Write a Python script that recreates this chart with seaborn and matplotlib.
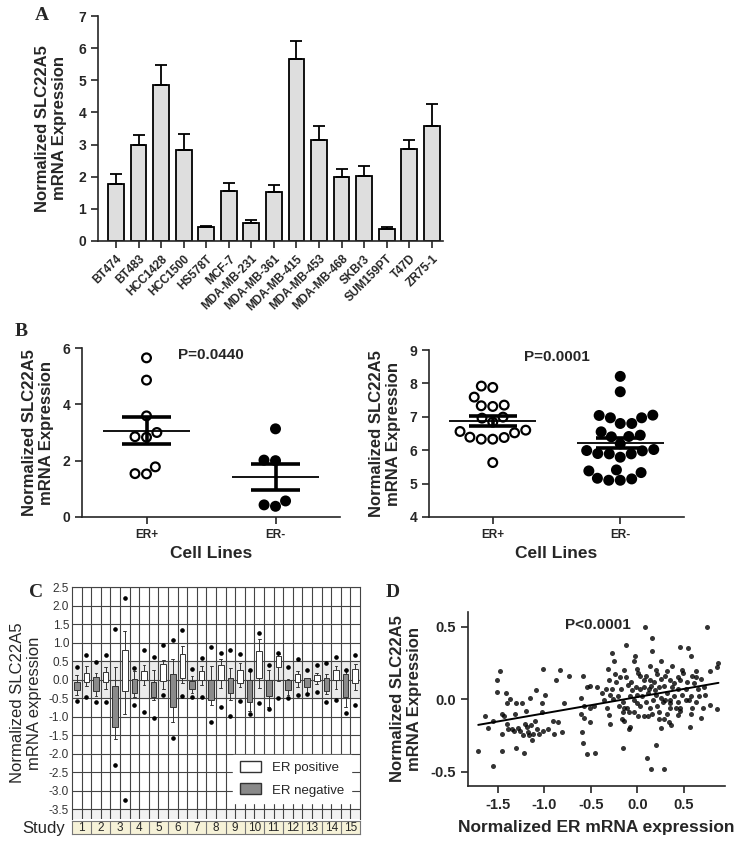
import numpy as np
import pandas as pd
import matplotlib
matplotlib.use("Agg")
import matplotlib.pyplot as plt
from matplotlib.patches import Patch
import seaborn as sns

sns.set_theme(style="ticks")
plt.rcParams["font.family"] = ["Liberation Sans", "DejaVu Sans"]
plt.rcParams["axes.unicode_minus"] = False

# ---------------- panel A: cell line bars
cell_lines = ["BT474", "BT483", "HCC1428", "HCC1500", "HS578T", "MCF-7",
              "MDA-MB-231", "MDA-MB-361", "MDA-MB-415", "MDA-MB-453",
              "MDA-MB-468", "SKBr3", "SUM159PT", "T47D", "ZR75-1"]
expr_mean = [1.78, 3.00, 4.86, 2.83, 0.43, 1.54, 0.57, 1.53, 5.65, 3.13,
             2.00, 2.02, 0.38, 2.85, 3.59]
expr_top = [2.07, 3.29, 5.49, 3.32, 0.48, 1.80, 0.65, 1.75, 6.22, 3.59,
            2.25, 2.33, 0.43, 3.13, 4.27]

# ---------------- panel B: ER+ / ER- scatter
b_groups = ["ER+", "ER-"]
cells_pos = [5.65, 4.86, 3.59, 2.83, 2.85, 3.00, 1.78, 1.54, 1.53]
cells_neg = [3.13, 2.00, 2.02, 0.57, 0.43, 0.38]
tumor_pos = [7.88, 7.92, 7.59, 7.33, 7.31, 7.35, 6.99, 6.96, 6.84, 6.56,
             6.39, 6.33, 6.33, 6.38, 6.52, 6.60, 5.63]
tumor_neg = [8.21, 7.75, 7.05, 6.97, 6.97, 7.04, 6.80, 6.80, 6.55, 6.45,
             6.40, 6.41, 6.19, 6.02, 5.98, 5.89, 5.89, 5.90, 5.99, 5.79,
             5.33, 5.41, 5.38, 5.14, 5.10, 5.10, 5.16]

# ---------------- panel C: box stats per study (ER negative / ER positive)
studies = list(range(1, 16))
neg_q1 = [-0.29, -0.32, -1.28, -0.36, -0.48, -0.75, -0.26, -0.56, -0.36, -0.62, -0.45, -0.29, -0.20, -0.32, -0.48]
neg_med = [-0.17, -0.15, -0.80, -0.21, -0.33, -0.29, -0.16, -0.43, -0.15, -0.35, -0.21, -0.13, -0.09, -0.17, -0.13]
neg_q3 = [-0.06, 0.08, -0.18, 0.01, -0.07, 0.15, -0.04, 0.00, 0.05, 0.00, 0.00, -0.02, 0.03, 0.04, 0.14]
neg_wlo = [-0.41, -0.45, -1.62, -0.46, -0.56, -1.15, -0.36, -0.68, -0.56, -0.84, -0.75, -0.41, -0.36, -0.39, -0.75]
neg_whi = [0.11, 0.18, 0.34, 0.23, 0.27, 0.55, 0.09, 0.36, 0.32, 0.23, 0.25, 0.02, 0.05, 0.16, 0.27]
neg_olo = [-0.58, -0.62, -2.32, -0.70, -1.05, -1.58, -0.48, -1.14, -0.98, -0.92, -0.81, -0.50, -0.39, -0.60, -0.91]
neg_ohi = [0.34, 0.47, 1.36, 0.32, 0.60, 1.07, 0.28, 0.88, 0.79, 0.26, 0.40, 0.35, 0.25, 0.45, 0.27]
pos_q1 = [-0.07, -0.07, -0.32, 0.00, -0.05, 0.05, 0.00, 0.00, -0.09, 0.05, 0.33, -0.06, -0.03, 0.00, -0.09]
pos_med = [0.05, 0.09, 0.29, 0.14, 0.15, 0.40, 0.13, 0.24, 0.05, 0.29, 0.48, 0.05, 0.04, 0.14, 0.12]
pos_q3 = [0.18, 0.20, 0.80, 0.23, 0.41, 0.68, 0.24, 0.40, 0.25, 0.77, 0.63, 0.14, 0.12, 0.25, 0.29]
pos_wlo = [-0.18, -0.25, -0.94, -0.14, -0.25, -0.09, -0.14, -0.23, -0.20, -0.23, -0.05, -0.21, -0.12, -0.27, -0.29]
pos_whi = [0.36, 0.35, 1.32, 0.39, 0.53, 0.91, 0.37, 0.55, 0.44, 1.10, 0.70, 0.23, 0.18, 0.36, 0.41]
pos_olo = [-0.48, -0.60, -3.25, -0.88, -0.42, -0.45, -0.46, -0.75, -0.57, -0.64, -0.51, -0.41, -0.33, -0.56, -0.70]
pos_ohi = [0.66, 0.66, 2.20, 0.81, 0.93, 1.33, 0.59, 0.72, 0.68, 1.25, 0.72, 0.56, 0.40, 0.62, 0.65]

# ---------------- panel D: ER vs SLC22A5 expression
er_expr = [-1.71, -1.64, -1.61, -1.55, -1.55, -1.51, -1.51, -1.48, -1.45, -1.45,
           -1.45, -1.43, -1.41, -1.40, -1.40, -1.37, -1.39, -1.35, -1.33, -1.31,
           -1.30, -1.30, -1.28, -1.26, -1.24, -1.23, -1.22, -1.21, -1.20, -1.19,
           -1.18, -1.17, -1.15, -1.14, -1.13, -1.12, -1.10, -1.09, -1.08, -1.06,
           -1.03, -1.02, -1.01, -1.01, -0.99, -0.96, -0.91, -0.90, -0.87, -0.85,
           -0.83, -0.81, -0.79, -0.74, -0.61, -0.61, -0.60, -0.59, -0.57, -0.57,
           -0.54, -0.54, -0.51, -0.51, -0.58,
           0.08, 0.75, 0.16, -0.12, 0.46, 0.54, 0.16, -0.27, 0.58, -0.03,
           -0.25, -0.04, 0.25, 0.13, 0.87, 0.85, -0.32, -0.14, -0.01, 0.20,
           0.48, 0.63, 0.78, -0.24, -0.19, -0.12, 0.01, 0.09, 0.21, 0.30,
           0.49, 0.59, 0.63, 0.68, -0.31, -0.23, -0.07, 0.13, 0.18, 0.25,
           0.35, 0.46, 0.53, -0.34, -0.27, -0.18, -0.02, 0.03, 0.07, 0.15,
           0.23, 0.28, 0.37, 0.43, 0.52, 0.65, 0.73, -0.51, -0.43, -0.08,
           0.00, 0.05, 0.11, 0.20, 0.32, 0.39, 0.48, 0.57, -0.36, -0.26,
           -0.16, -0.04, 0.09, 0.17, 0.27, 0.35, 0.43, 0.55, 0.63, 0.78,
           0.85, -0.47, -0.33, -0.20, -0.11, 0.13, 0.21, 0.35, 0.46, 0.59,
           0.70, -0.16, -0.09, -0.04, 0.57, 0.01, 0.07, 0.11, -0.31, 0.43,
           -0.17, -0.14, 0.23, 0.28, 0.34, 0.36, 0.68, -0.29, -0.08, -0.09,
           0.25, 0.56, -0.46, -0.16, 0.20, 0.10, 0.15, 0.28,
           0.03, 0.07, 0.12, 0.19, 0.25, 0.30, 0.35, 0.41, 0.46, 0.52,
           0.23, 0.16, 0.32, 0.03, 0.00, -0.06, -0.10, -0.21, -0.29, -0.38,
           0.39, 0.43, 0.32, 0.37, 0.61, 0.71, 0.66, -0.15]
slc_expr = [-0.36, -0.12, -0.20, -0.46, -0.15, 0.13, 0.05, 0.19, -0.10, -0.24,
            -0.36, -0.12, 0.04, -0.03, -0.17, 0.00, -0.21, -0.21, -0.22, -0.10,
            -0.34, -0.03, -0.20, -0.22, -0.03, -0.25, -0.37, -0.17, -0.08, -0.19,
            -0.23, -0.25, 0.01, -0.18, -0.28, -0.24, -0.15, 0.06, -0.21, -0.24,
            -0.09, -0.03, 0.21, -0.22, 0.03, -0.21, -0.15, -0.24, 0.13, -0.16,
            0.20, -0.23, -0.03, 0.16, -0.10, 0.01, -0.23, -0.30, -0.05, -0.13,
            0.08, -0.38, -0.06, -0.16, 0.16,
            0.50, 0.50, 0.42, 0.37, 0.36, 0.35, 0.33, 0.32, 0.30, 0.30,
            0.26, 0.26, 0.26, 0.23, 0.25, 0.22, 0.21, 0.20, 0.21, 0.20,
            0.20, 0.19, 0.19, 0.17, 0.15, 0.15, 0.18, 0.16, 0.17, 0.16,
            0.18, 0.16, 0.15, 0.14, 0.13, 0.12, 0.12, 0.13, 0.12, 0.14,
            0.13, 0.13, 0.12, 0.07, 0.07, 0.07, 0.08, 0.07, 0.08, 0.09,
            0.08, 0.09, 0.08, 0.07, 0.07, 0.07, 0.03, 0.09, 0.08, 0.02,
            0.03, 0.02, 0.04, 0.03, 0.04, 0.02, 0.03, 0.02, -0.01, 0.00,
            -0.02, -0.01, -0.02, -0.01, -0.02, -0.01, -0.02, -0.01, -0.02, -0.04,
            -0.07, -0.05, -0.06, -0.05, -0.06, -0.06, -0.05, -0.06, -0.06, -0.06,
            -0.06, -0.09, -0.09, -0.09, -0.10, -0.12, -0.12, -0.12, -0.11, -0.11,
            -0.14, -0.15, -0.14, -0.14, -0.16, -0.18, -0.13, -0.17, -0.19, -0.21,
            -0.20, -0.19, -0.37, -0.34, -0.32, -0.41, -0.48, -0.48,
            0.16, 0.13, 0.07, 0.06, 0.01, -0.01, -0.03, -0.06, -0.08, -0.01,
            -0.09, -0.10, -0.10, -0.05, -0.03, 0.06, 0.10, 0.02, 0.03, 0.04,
            0.11, 0.15, 0.19, 0.23, 0.11, 0.08, 0.02, -0.06]

# ================= figure
fig = plt.figure(figsize=(7.45, 8.47), dpi=100)
W, H = 745.0, 847.0


def box(x0, y0, x1, y1):
    # pixel box (top-left origin) -> figure axes rect
    return [x0 / W, 1 - y1 / H, (x1 - x0) / W, (y1 - y0) / H]


def letter(x, y, s):
    fig.text(x / W, 1 - y / H, s, family="Liberation Serif", weight="bold",
             fontsize=14, ha="center", va="center")


bold = dict(fontweight="bold")

# ---- A
axA = fig.add_axes(box(98, 16, 443, 241))
sns.barplot(x=cell_lines, y=expr_mean, color="#dedede", saturation=1,
            edgecolor="black", linewidth=1.3, width=0.7, errorbar=None, ax=axA)
err = np.array(expr_top) - np.array(expr_mean)
axA.errorbar(np.arange(len(cell_lines)), expr_mean,
             yerr=[np.zeros(len(err)), err], fmt="none", ecolor="black",
             elinewidth=1.3, capsize=4, capthick=1.3)
axA.set_xlim(-0.8, 14.5)
axA.set_ylim(0, 7)
axA.set_yticks(range(8))
axA.set_xticks(range(len(cell_lines)))
axA.set_xticklabels(cell_lines, rotation=45, ha="right", rotation_mode="anchor",
                    fontsize=8.5, **bold)
axA.set_ylabel("Normalized SLC22A5\nmRNA Expression", fontsize=12, labelpad=8, **bold)
for t in axA.get_yticklabels():
    t.set_fontweight("bold")
axA.tick_params(axis="both", width=1.2, length=5, labelsize=10)
axA.tick_params(axis="x", labelsize=8.5)
sns.despine(ax=axA)
for s in ["left", "bottom"]:
    axA.spines[s].set_linewidth(1.2)
letter(42, 16, "A")


# ---- B
def dotplot(ax, pos, neg, ylim, yticks, ptext, pty):
    df = pd.DataFrame({"group": ["ER+"] * len(pos) + ["ER-"] * len(neg),
                       "val": pos + neg})
    sns.swarmplot(data=df, x="group", y="val", hue="group", order=b_groups,
                  palette={"ER+": "white", "ER-": "black"}, edgecolor="black",
                  linewidth=1.6, size=6.3, legend=False, ax=ax, zorder=3)
    for i, vals in enumerate([pos, neg]):
        v = np.array(vals)
        m = v.mean()
        se = v.std(ddof=1) / np.sqrt(len(v))
        ax.hlines(m, i - 0.34, i + 0.34, color="black", lw=1.3, zorder=4)
        ax.hlines([m - se, m + se], i - 0.19, i + 0.19, color="black", lw=2.6, zorder=4)
        ax.vlines(i, m - se, m + se, color="black", lw=2.6, zorder=4)
    ax.set_ylim(*ylim)
    ax.set_yticks(yticks)
    ax.set_xlim(-0.5, 1.5)
    ax.set_xlabel("Cell Lines", fontsize=12.5, labelpad=4, **bold)
    ax.set_ylabel("Normalized SLC22A5\nmRNA Expression", fontsize=12, labelpad=6, **bold)
    ax.tick_params(axis="both", width=1.2, length=5, labelsize=10)
    ax.tick_params(axis="x", labelsize=8.5)
    for t in ax.get_xticklabels() + ax.get_yticklabels():
        t.set_fontweight("bold")
    sns.despine(ax=ax)
    for s in ["left", "bottom"]:
        ax.spines[s].set_linewidth(1.2)
    ax.text(0.5, pty, ptext, ha="center", va="center", fontsize=11, **bold)


axB1 = fig.add_axes(box(82, 348, 340, 517))
dotplot(axB1, cells_pos, cells_neg, (0, 6), [0, 2, 4, 6], "P=0.0440", 5.75)
axB2 = fig.add_axes(box(429, 350, 684, 517))
dotplot(axB2, tumor_pos, tumor_neg, (4, 9), range(4, 10), "P=0.0001", 8.8)
letter(21, 331, "B")

# ---- C
axC = fig.add_axes(box(72, 587, 360, 819))
axC.axhspan(-0.5, 0.5, color="#ebebeb", zorder=0)
axC.axhspan(-3.9, -3.5, color="#f2f2f2", zorder=0)
for yv in np.arange(-3.5, 2.51, 0.5):
    axC.axhline(yv, color="#444444", lw=0.8, zorder=1)
for xv in np.arange(0.5, 29.5, 1):
    axC.axvline(xv, color="#444444", lw=0.8, zorder=1)

stats, positions, colors = [], [], []
for i in range(len(studies)):
    stats.append(dict(q1=neg_q1[i], med=neg_med[i], q3=neg_q3[i], whislo=neg_wlo[i],
                      whishi=neg_whi[i], fliers=[neg_olo[i], neg_ohi[i]]))
    stats.append(dict(q1=pos_q1[i], med=pos_med[i], q3=pos_q3[i], whislo=pos_wlo[i],
                      whishi=pos_whi[i], fliers=[pos_olo[i], pos_ohi[i]]))
    positions += [2 * i, 2 * i + 1]
    colors += ["#8a8a8a", "white"]
bp = axC.bxp(stats, positions=positions, widths=0.6, patch_artist=True,
             manage_ticks=False,
             boxprops=dict(edgecolor="#333333", linewidth=0.7),
             medianprops=dict(color="black", linewidth=0.9),
             whiskerprops=dict(color="#333333", linewidth=0.7),
             capprops=dict(color="#333333", linewidth=0.7),
             flierprops=dict(marker="o", markerfacecolor="black",
                             markeredgecolor="black", markersize=2.3))
for patch, c in zip(bp["boxes"], colors):
    patch.set_facecolor(c)
    patch.set_zorder(3)
axC.set_xlim(-0.5, 29.5)
axC.set_ylim(-3.77, 2.5)
axC.set_yticks(np.arange(-3.5, 2.51, 0.5))
axC.set_yticklabels(["%.1f" % v for v in np.arange(-3.5, 2.51, 0.5)], color="#333333")
axC.set_xticks([])
axC.tick_params(axis="y", length=0, labelsize=8.5, pad=2)
axC.set_ylabel("Normalized SLC22A5\nmRNA expression", fontsize=12, labelpad=5)
for s in axC.spines.values():
    s.set_linewidth(0.8)
    s.set_color("#444444")
axC.spines["bottom"].set_visible(False)
axC.legend(handles=[Patch(facecolor="white", edgecolor="#333333", label="ER positive"),
                    Patch(facecolor="#8a8a8a", edgecolor="#333333", label="ER negative")],
           loc="lower right", bbox_to_anchor=(0.99, 0.04), fontsize=9.5,
           frameon=True, fancybox=False, framealpha=1, edgecolor="white",
           handlelength=1.6, handleheight=0.9, borderpad=0.5, labelspacing=0.7)

axS = fig.add_axes(box(72, 821, 360, 834))
axS.set_facecolor("#f6f2d8")
axS.set_xlim(-0.5, 29.5)
axS.set_ylim(0, 1)
for xv in np.arange(1.5, 29, 2):
    axS.axvline(xv, color="#777777", lw=0.8)
for i, st in enumerate(studies):
    axS.text(2 * i + 0.5, 0.45, str(st), ha="center", va="center", fontsize=8.5)
axS.set_xticks([])
axS.set_yticks([])
for s in axS.spines.values():
    s.set_linewidth(0.8)
    s.set_color("#777777")
fig.text(44 / W, 1 - 828 / H, "Study", fontsize=12, ha="center", va="center")
letter(36, 592, "C")

# ---- D
axD = fig.add_axes(box(468, 612, 725, 786))
sns.regplot(x=er_expr, y=slc_expr, ci=None, ax=axD,
            scatter_kws=dict(s=13, color="black", linewidths=0),
            line_kws=dict(color="black", lw=1.4))
axD.set_xlim(-1.82, 0.94)
axD.set_ylim(-0.6, 0.6)
axD.set_xticks([-1.5, -1.0, -0.5, 0.0, 0.5])
axD.set_xticklabels(["-1.5", "-1.0", "-0.5", "0.0", "0.5"])
axD.set_yticks([-0.5, 0.0, 0.5])
axD.set_yticklabels(["-0.5", "0.0", "0.5"])
axD.tick_params(axis="both", width=1.2, length=5, labelsize=10.5)
for t in axD.get_xticklabels() + axD.get_yticklabels():
    t.set_fontweight("bold")
axD.set_xlabel("Normalized ER mRNA expression", fontsize=12.5, labelpad=6, **bold)
axD.set_ylabel("Normalized SLC22A5\nmRNA Expression", fontsize=12, labelpad=6, **bold)
axD.text(-0.42, 0.51, "P<0.0001", ha="center", va="center", fontsize=11, **bold)
sns.despine(ax=axD)
for s in ["left", "bottom"]:
    axD.spines[s].set_linewidth(1.2)
letter(393, 592, "D")

fig.savefig("out.png", dpi=100)
